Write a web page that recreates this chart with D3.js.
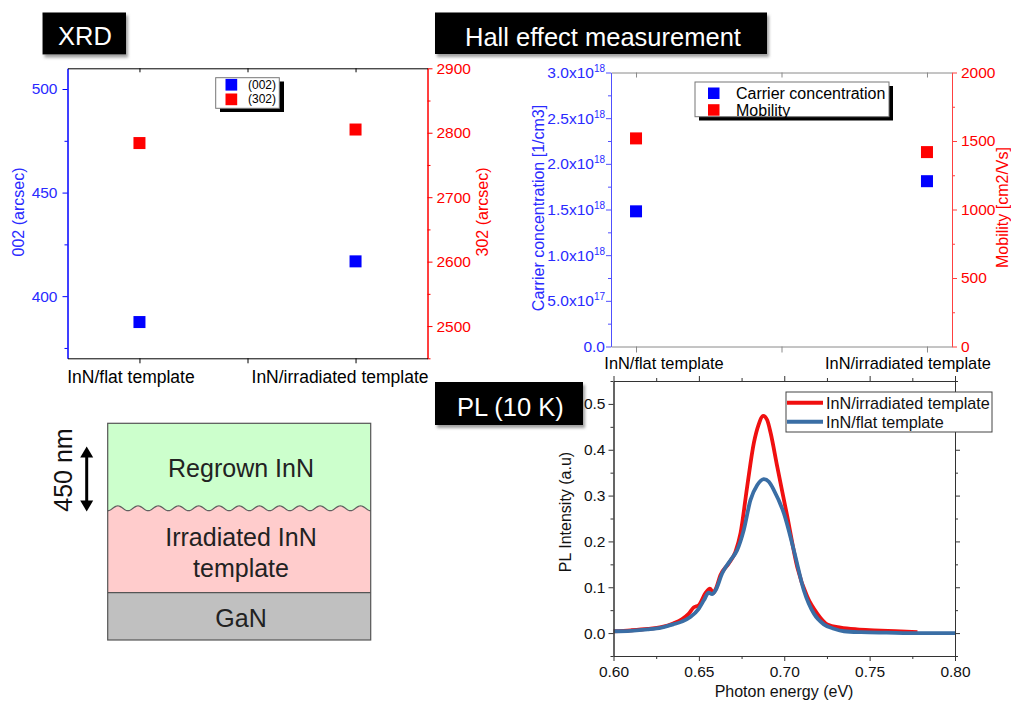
<!DOCTYPE html>
<html>
<head>
<meta charset="utf-8">
<script src="https://cdn.jsdelivr.net/npm/d3@7"></script>
<style>
body { margin: 0; background: #fff; }
svg { display: block; font-family: "Liberation Sans", Arial, sans-serif; }
</style>
</head>
<body>
<div id="fig"></div>
<script>
// ---- data ----
const categories = ["InN/flat template", "InN/irradiated template"]
const xrd002 = [387.5, 416.8]
const xrd302 = [2784, 2805]
const carrierConc = [1.48e18, 1.81e18]
const mobility = [1519, 1419]

const plEnergyIrr = [0.600, 0.610, 0.620, 0.628, 0.635, 0.640, 0.644, 0.647, 0.650, 0.654, 0.6565, 0.6585, 0.660, 0.6626,
    0.6675, 0.6714, 0.6744, 0.6783, 0.6822, 0.685, 0.6877, 0.690, 0.692, 0.6959, 0.7018, 0.7076, 0.7135, 0.7194,
    0.7252, 0.733, 0.7426, 0.7526, 0.765, 0.778]
const plIntIrr = [0.004, 0.006, 0.009, 0.013, 0.021, 0.030, 0.042, 0.056, 0.061, 0.088, 0.097, 0.088, 0.097, 0.126,
    0.152, 0.177, 0.218, 0.320, 0.415, 0.455, 0.474, 0.465, 0.437, 0.363, 0.254, 0.144, 0.079, 0.042,
    0.019, 0.012, 0.008, 0.006, 0.004, 0.002]
const plEnergyFlat = [0.600, 0.610, 0.620, 0.628, 0.635, 0.640, 0.645, 0.6499, 0.653, 0.6557, 0.6577, 0.660, 0.6636,
    0.6685, 0.6724, 0.6763, 0.6802, 0.6842, 0.6881, 0.691, 0.6939, 0.6998, 0.7056, 0.7115, 0.7174, 0.7232,
    0.7291, 0.735, 0.745, 0.76, 0.78, 0.80]
const plIntFlat = [0.004, 0.005, 0.008, 0.012, 0.019, 0.025, 0.035, 0.053, 0.072, 0.088, 0.085, 0.095, 0.130,
    0.159, 0.181, 0.225, 0.290, 0.323, 0.336, 0.330, 0.312, 0.261, 0.181, 0.093, 0.042, 0.019,
    0.0096, 0.004, 0.002, 0.001, 0.000, 0.000]
const plSeries = ["InN/irradiated template", "InN/flat template"]

const layerNames = [["Regrown InN"], ["Irradiated InN", "template"], ["GaN"]]
const layerThickness = [85, 84.4, 47.3]

const BLUE = "#0000ff", RED = "#ff0000"
const FONT = "\"Liberation Sans\", Arial, sans-serif"

const svg = d3.select("#fig").append("svg")
    .attr("width", 1011)
    .attr("height", 702)

const defs = svg.append("defs")
const shadow = defs.append("filter").attr("id", "shadow")
    .attr("x", "-10%").attr("y", "-20%").attr("width", "130%").attr("height", "160%")
shadow.append("feDropShadow")
    .attr("dx", 2).attr("dy", 3).attr("stdDeviation", 1.5)
    .attr("flood-color", "#888").attr("flood-opacity", 0.8)

function titleBox(x0, y0, x1, y1, label, tx, ty) {
    svg.append("rect")
        .attr("x", x0).attr("y", y0)
        .attr("width", x1 - x0).attr("height", y1 - y0)
        .attr("fill", "#000")
        .attr("filter", "url(#shadow)")
    svg.append("text")
        .attr("x", tx).attr("y", ty)
        .attr("fill", "#fff")
        .style("font-size", "25.5px")
        .text(label)
}

// style an axis group: colour lines and labels
function paint(g, color, labelColor, fontSize) {
    g.selectAll("path, line").attr("stroke", color)
    g.selectAll("text")
        .attr("fill", labelColor || color)
        .style("font-size", fontSize || "15.5px")
        .style("font-family", FONT)
    return g
}

function rotLabel(x, y, text, color, size) {
    svg.append("text")
        .attr("transform", `translate(${x},${y}) rotate(-90)`)
        .attr("text-anchor", "middle")
        .attr("dominant-baseline", "central")
        .attr("fill", color)
        .style("font-size", size || "16px")
        .text(text)
}

function squareMarks(g, data, x, y, color, size = 12) {
    g.selectAll(null).data(data).enter()
        .append("rect")
        .attr("x", (d, i) => x(i + 1) - size / 2)
        .attr("y", d => y(d) - size / 2)
        .attr("width", size).attr("height", size)
        .attr("fill", color)
}

// ================= XRD =================
titleBox(42.5, 12.5, 126, 54.5, "XRD", 58, 44.5)
{
    const g = svg.append("g")
    const left = 67.5, right = 427.5, top = 68.3, bottom = 358.3
    const x = d3.scaleLinear().domain([0.667, 2.333]).range([left, right])
    const yL = d3.scaleLinear().domain([370, 510]).range([bottom, top])
    const yR = d3.scaleLinear().domain([2450, 2900]).range([bottom, top])

    paint(g.append("g").attr("transform", `translate(${left},0)`)
        .call(d3.axisLeft(yL).tickValues([400, 450, 500]).tickSize(5).tickSizeOuter(0).tickPadding(5).tickFormat(d3.format("d"))), BLUE, "#2a2aff")
    paint(g.append("g").attr("transform", `translate(${left},0)`)
        .call(d3.axisLeft(yL).tickValues([375, 425, 475]).tickSize(3).tickSizeOuter(0).tickFormat("")), BLUE)
    paint(g.append("g").attr("transform", `translate(${right},0)`)
        .call(d3.axisRight(yR).tickValues(d3.range(2500, 2901, 100)).tickSize(5).tickSizeOuter(0).tickPadding(4).tickFormat(d3.format("d"))), RED)
    paint(g.append("g").attr("transform", `translate(${right},0)`)
        .call(d3.axisRight(yR).tickValues(d3.range(2450, 2900, 100)).tickSize(3).tickSizeOuter(0).tickFormat("")), RED)
    paint(g.append("g").attr("transform", `translate(0,${bottom})`)
        .call(d3.axisBottom(x).tickValues([1, 1.5, 2]).tickSize(5).tickSizeOuter(0).tickFormat("")), "#000")
    paint(g.append("g").attr("transform", `translate(0,${top})`)
        .call(d3.axisTop(x).tickValues([1, 1.5, 2]).tickSize(-4).tickSizeOuter(0).tickFormat("")), "#000")

    const labelShift = [-8.5, -15.5]
    g.selectAll(null).data(categories).enter().append("text")
        .attr("x", (d, i) => x(i + 1) + labelShift[i])
        .attr("y", 382.5)
        .attr("text-anchor", "middle")
        .style("font-size", "17.5px")
        .text(d => d)

    squareMarks(g, xrd302, x, yR, RED)
    squareMarks(g, xrd002, x, yL, BLUE)

    rotLabel(18, 212, "002  (arcsec)", "#2a2aff")
    rotLabel(482, 212, "302  (arcsec)", RED)

    // legend
    const lg = g.append("g")
    lg.append("rect").attr("x", 220).attr("y", 81.5).attr("width", 64).attr("height", 30.5).attr("fill", "#000")
    lg.append("rect").attr("x", 215.7).attr("y", 77.7).attr("width", 63.6).attr("height", 30.6)
        .attr("fill", "#fff").attr("stroke", "#777")
    const legXrd = [["(002)", BLUE], ["(302)", RED]]
    legXrd.forEach(([t, c], i) => {
        lg.append("rect").attr("x", 225.5).attr("y", 78.9 + i * 14.6).attr("width", 11.7).attr("height", 11.7).attr("fill", c)
        lg.append("text").attr("x", 248).attr("y", 84.7 + i * 14.6)
            .attr("dominant-baseline", "central").style("font-size", "12px").text(t)
    })
}

// ================= Hall =================
titleBox(435, 12.5, 767, 54, "Hall effect measurement", 465, 45.5)
{
    const g = svg.append("g")
    const left = 611, right = 952, top = 72.5, bottom = 346.5
    const x = d3.scaleLinear().domain([0.914, 2.086]).range([left, right])
    const yL = d3.scaleLinear().domain([0, 3e18]).range([bottom, top])
    const yR = d3.scaleLinear().domain([0, 2000]).range([bottom, top])
    const LB = "#5050ff", RR = "#ff4040"

    const gl = g.append("g").attr("transform", `translate(${left},0)`)
        .call(d3.axisLeft(yL).tickValues(d3.range(0, 3.01e18, 0.5e18)).tickSize(5).tickSizeOuter(0).tickPadding(1))
    paint(gl, LB, "#2a2aff")
    gl.selectAll(".tick text").each(function (d) {
        const t = d3.select(this).text(null)
        if (d === 0) {
            t.text("0.0")
            return
        }
        const e = Math.floor(Math.log10(d))
        t.append("tspan").text(`${(d / 10 ** e).toFixed(1)}x10`)
        t.append("tspan").attr("dy", -6).style("font-size", "10px").text(e)
    })
    paint(g.append("g").attr("transform", `translate(${left},0)`)
        .call(d3.axisLeft(yL).tickValues(d3.range(0.25e18, 3e18, 0.5e18)).tickSize(3).tickSizeOuter(0).tickFormat("")), LB)
    paint(g.append("g").attr("transform", `translate(${right},0)`)
        .call(d3.axisRight(yR).tickValues(d3.range(0, 2001, 500)).tickSize(5).tickSizeOuter(0).tickPadding(4).tickFormat(d3.format("d"))), RR, RED)
    paint(g.append("g").attr("transform", `translate(${right},0)`)
        .call(d3.axisRight(yR).tickValues(d3.range(250, 2000, 500)).tickSize(3).tickSizeOuter(0).tickFormat("")), RR)
    paint(g.append("g").attr("transform", `translate(0,${bottom})`)
        .call(d3.axisBottom(x).tickValues([1, 1.5, 2]).tickSize(6).tickSizeOuter(0).tickFormat("")), "#8a8a8a")
    paint(g.append("g").attr("transform", `translate(0,${top})`)
        .call(d3.axisTop(x).tickValues([1, 1.5, 2]).tickSize(-5).tickSizeOuter(0).tickFormat("")), "#8a8a8a")

    const labelShift = [28, -19]
    g.selectAll(null).data(categories).enter().append("text")
        .attr("x", (d, i) => x(i + 1) + labelShift[i])
        .attr("y", 369)
        .attr("text-anchor", "middle")
        .style("font-size", "16.4px")
        .text(d => d)

    squareMarks(g, mobility, x, yR, RED)
    squareMarks(g, carrierConc, x, yL, BLUE)

    rotLabel(538, 208, "Carrier concentration [1/cm3]", "#2a2aff")
    rotLabel(1002, 207.5, "Mobility [cm2/Vs]", RED)

    const lg = g.append("g")
    lg.append("rect").attr("x", 699).attr("y", 86).attr("width", 194).attr("height", 34.5).attr("fill", "#000")
    lg.append("rect").attr("x", 695).attr("y", 82).attr("width", 194).attr("height", 34.7)
        .attr("fill", "#fff").attr("stroke", "#777")
    const legHall = [["Carrier concentration", BLUE], ["Mobility", RED]]
    legHall.forEach(([t, c], i) => {
        lg.append("rect").attr("x", 708).attr("y", 87.5 + i * 16.7).attr("width", 11.5).attr("height", 11.5).attr("fill", c)
        lg.append("text").attr("x", 736).attr("y", 93.3 + i * 16.7)
            .attr("dominant-baseline", "central").style("font-size", "16px").text(t)
    })
}

// ================= PL =================
titleBox(435, 382, 583, 425, "PL (10 K)", 457, 415.5)
{
    const g = svg.append("g")
    const left = 613.5, right = 955, top = 381, bottom = 656
    const x = d3.scaleLinear().domain([0.6, 0.8]).range([left, right])
    const y = d3.scaleLinear().domain([-0.05, 0.55]).range([bottom, top])
    const AX = "#333"

    g.append("clipPath").attr("id", "plclip").append("rect")
        .attr("x", left).attr("y", top).attr("width", right - left).attr("height", bottom - top)

    const line = d3.line().curve(d3.curveMonotoneX).x(d => x(d[0])).y(d => y(d[1]))
    const series = [
        {name: plSeries[0], color: "#f01010", pts: d3.zip(plEnergyIrr, plIntIrr)},
        {name: plSeries[1], color: "#3a6ea5", pts: d3.zip(plEnergyFlat, plIntFlat)}
    ]
    g.append("g").attr("clip-path", "url(#plclip)")
        .selectAll("path").data(series).enter().append("path")
        .attr("d", d => line(d.pts))
        .attr("fill", "none")
        .attr("stroke", d => d.color)
        .attr("stroke-width", 3.8)
        .attr("stroke-linejoin", "round")

    const xMajor = d3.range(0.6, 0.8001, 0.05), xMinor = d3.range(0.625, 0.8, 0.05)
    const yMajor = d3.range(0, 0.5001, 0.1), yMinor = d3.range(-0.05, 0.55, 0.1)

    paint(g.append("g").attr("transform", `translate(0,${bottom})`)
        .call(d3.axisBottom(x).tickValues(xMajor).tickSize(5).tickSizeOuter(0).tickPadding(5).tickFormat(d3.format(".2f"))), AX, "#111")
    paint(g.append("g").attr("transform", `translate(0,${bottom})`)
        .call(d3.axisBottom(x).tickValues(xMinor).tickSize(3).tickSizeOuter(0).tickFormat("")), AX)
    paint(g.append("g").attr("transform", `translate(0,${top})`)
        .call(d3.axisTop(x).tickValues(xMajor).tickSize(5).tickSizeOuter(0).tickFormat("")), AX)
    paint(g.append("g").attr("transform", `translate(0,${top})`)
        .call(d3.axisTop(x).tickValues(xMinor).tickSize(3).tickSizeOuter(0).tickFormat("")), AX)
    paint(g.append("g").attr("transform", `translate(${left},0)`)
        .call(d3.axisLeft(y).tickValues(yMajor).tickSize(5).tickSizeOuter(0).tickPadding(3).tickFormat(d3.format(".1f"))), AX, "#111")
    paint(g.append("g").attr("transform", `translate(${left},0)`)
        .call(d3.axisLeft(y).tickValues(yMinor).tickSize(3).tickSizeOuter(0).tickFormat("")), AX)
    paint(g.append("g").attr("transform", `translate(${right},0)`)
        .call(d3.axisRight(y).tickValues(yMajor).tickSize(5).tickSizeOuter(0).tickFormat("")), AX)
    paint(g.append("g").attr("transform", `translate(${right},0)`)
        .call(d3.axisRight(y).tickValues(yMinor).tickSize(3).tickSizeOuter(0).tickFormat("")), AX)

    rotLabel(565, 512, "PL Intensity (a.u)", "#111")
    g.append("text").attr("x", 784).attr("y", 697).attr("text-anchor", "middle")
        .style("font-size", "16px").attr("fill", "#111").text("Photon energy (eV)")

    const lg = g.append("g")
    lg.append("rect").attr("x", 786).attr("y", 392).attr("width", 206).attr("height", 40)
        .attr("fill", "#fff").attr("stroke", "#444")
    series.forEach((s, i) => {
        const yy = 402.7 + i * 19
        lg.append("line").attr("x1", 787).attr("x2", 823).attr("y1", yy).attr("y2", yy)
            .attr("stroke", s.color).attr("stroke-width", 4)
        lg.append("text").attr("x", 826).attr("y", yy)
            .attr("dominant-baseline", "central").style("font-size", "16.2px").attr("fill", "#111").text(s.name)
    })
}

// ================= layer schematic =================
{
    const g = svg.append("g")
    const bx0 = 107.7, bx1 = 370.7
    const depth = d3.scaleLinear().domain([0, d3.sum(layerThickness)]).range([423.3, 640])
    const edges = d3.cumsum([0, ...layerThickness])
    const fills = ["#ccffcc", "#ffcccc", "#c0c0c0"]

    g.append("rect").attr("x", bx0).attr("y", depth(edges[0]))
        .attr("width", bx1 - bx0).attr("height", depth(edges[1]) - depth(edges[0]) + 4).attr("fill", fills[0])

    // wavy interface
    const yw = depth(edges[1])
    const waves = 13, amp = 2.4
    const wave = d3.range(0, 261).map(i => {
        const px = bx0 + i * (bx1 - bx0) / 260
        return [px, yw + amp * Math.cos((px - bx0) / (bx1 - bx0) * waves * 2 * Math.PI)]
    })
    const yp = depth(edges[2])
    g.append("path")
        .attr("d", d3.line()(wave) + `L${bx1},${yp}L${bx0},${yp}Z`)
        .attr("fill", fills[1])
    g.append("path").attr("d", d3.line()(wave)).attr("fill", "none").attr("stroke", "#606060").attr("stroke-width", 1.2)

    g.append("rect").attr("x", bx0).attr("y", yp)
        .attr("width", bx1 - bx0).attr("height", depth(edges[3]) - yp).attr("fill", fills[2])
    g.append("line").attr("x1", bx0).attr("x2", bx1).attr("y1", yp).attr("y2", yp).attr("stroke", "#555").attr("stroke-width", 1.2)
    g.append("rect").attr("x", bx0).attr("y", depth(0))
        .attr("width", bx1 - bx0).attr("height", depth(edges[3]) - depth(0))
        .attr("fill", "none").attr("stroke", "#555").attr("stroke-width", 1.2)

    layerNames.forEach((lines, i) => {
        const mid = (depth(edges[i]) + depth(edges[i + 1])) / 2
        const n = lines.length
        lines.forEach((t, j) => {
            g.append("text")
                .attr("x", 241).attr("y", mid + (j - (n - 1) / 2) * 31 + 2)
                .attr("text-anchor", "middle").attr("dominant-baseline", "central")
                .attr("fill", "#222").style("font-size", "25px").text(t)
        })
    })

    // thickness arrow
    const ax = 86.7, ay0 = 446.5, ay1 = 511.5
    g.append("line").attr("x1", ax).attr("x2", ax).attr("y1", ay0 + 8).attr("y2", ay1 - 8)
        .attr("stroke", "#000").attr("stroke-width", 3)
    g.append("path").attr("d", `M${ax},${ay0}L${ax - 6.5},${ay0 + 11}L${ax + 6.5},${ay0 + 11}Z`).attr("fill", "#000")
    g.append("path").attr("d", `M${ax},${ay1}L${ax - 6.5},${ay1 - 11}L${ax + 6.5},${ay1 - 11}Z`).attr("fill", "#000")
    rotLabel(63, 470, "450 nm", "#111", "25px")
}
</script>
</body>
</html>
